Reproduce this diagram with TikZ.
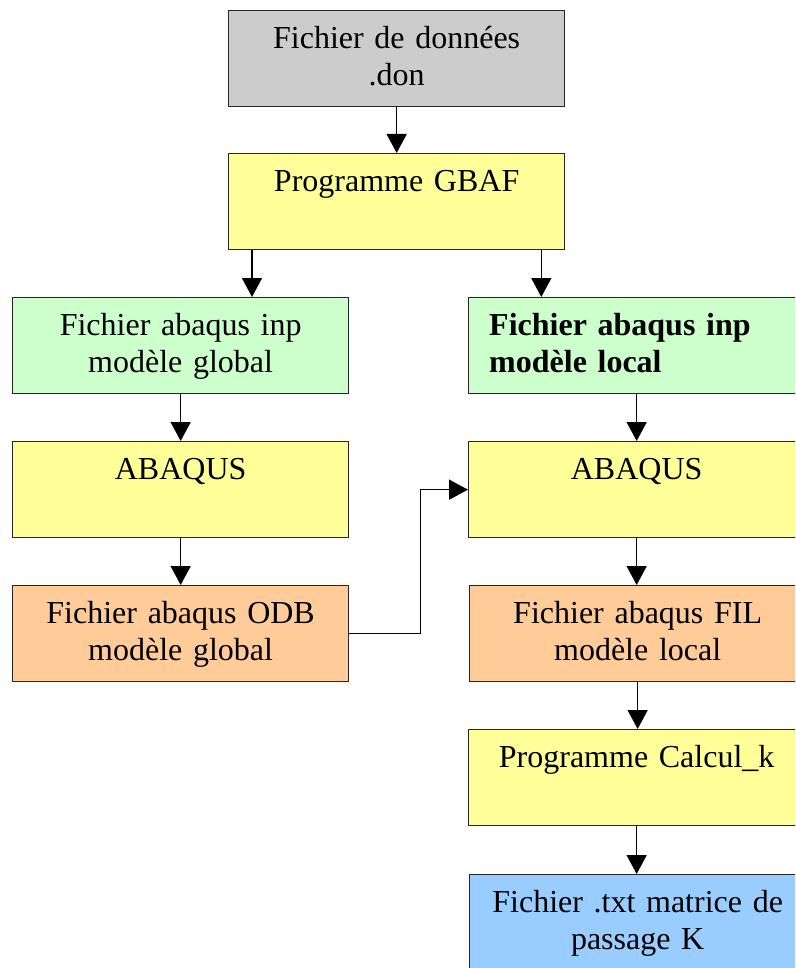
\documentclass[tikz,border=0pt]{standalone}
\usepackage{fontspec}
\setmainfont{Liberation Serif}
\usetikzlibrary{arrows.meta}
\definecolor{cgray}{HTML}{CCCCCC}
\definecolor{cyellow}{HTML}{FFFF99}
\definecolor{cgreen}{HTML}{CCFFCC}
\definecolor{corange}{HTML}{FFCC99}
\definecolor{cblue}{HTML}{99CCFF}
\tikzset{
  box/.style={draw=black!85, line width=1.3pt, minimum width=336pt, minimum height=96pt, inner sep=0pt, anchor=north west},
  txt/.style={font=\fontsize{32}{37}\selectfont, inner sep=0pt, anchor=north, text width=330pt, align=center},
  txtb/.style={font=\fontsize{32}{37}\selectfont\bfseries, inner sep=0pt, anchor=north west, text width=310pt, align=left},
  arr/.style={line width=1.5pt, -{Triangle[length=19pt,width=20pt]}}
}
\begin{document}
\begin{tikzpicture}[x=1pt,y=-1pt]
\useasboundingbox (0,0) rectangle (795,968);
\clip (0,0) rectangle (795,968);
% boxes
\node[box, fill=cgray] (don) at (228,10) {};
\node[box, fill=cyellow] (gbaf) at (228,153) {};
\node[box, fill=cgreen] (gl) at (12,297) {};
\node[box, fill=cgreen] (gr) at (468,297) {};
\node[box, fill=cyellow] (al) at (12,441) {};
\node[box, fill=cyellow] (ar) at (468,441) {};
\node[box, fill=corange] (ol) at (12,585) {};
\node[box, fill=corange] (fr) at (469,585) {};
\node[box, fill=cyellow] (calc) at (468,729) {};
\node[box, fill=cblue] (res) at (469,874) {};
% texts
\node[txt] (tdon) at ([yshift=-12pt]don.north) {\strut Fichier de données\\.don};
\node[txt] (tgbaf) at ([yshift=-12pt]gbaf.north) {\strut Programme GBAF};
\node[txt] (tgl) at ([yshift=-12pt]gl.north) {\strut Fichier abaqus inp\\modèle global};
\node[txtb] (tgr) at ([xshift=21pt,yshift=-12pt]gr.north west) {\strut Fichier abaqus inp\\modèle local};
\node[txt] (tal) at ([yshift=-12pt]al.north) {\strut ABAQUS};
\node[txt] (tar) at ([yshift=-12pt]ar.north) {\strut ABAQUS};
\node[txt] (tol) at ([yshift=-12pt]ol.north) {\strut Fichier abaqus ODB\\modèle global};
\node[txt] (tfr) at ([yshift=-12pt]fr.north) {\strut Fichier abaqus FIL\\modèle local};
\node[txt] (tcalc) at ([yshift=-12pt]calc.north) {\strut Programme Calcul\_k};
\node[txt] (tres) at ([yshift=-12pt]res.north) {\strut Fichier .txt matrice de\\passage K};
% connectors
\draw[arr] (don.south) -- (gbaf.north);
\draw[arr] ([xshift=24pt]gbaf.south west) -- ([xshift=24pt]gbaf.south west |- gl.north);
\draw[arr] ([xshift=-24pt]gbaf.south east) -- ([xshift=-24pt]gbaf.south east |- gr.north);
\draw[arr] (gl.south) -- (al.north);
\draw[arr] (al.south) -- (ol.north);
\draw[arr] (gr.south) -- (ar.north);
\draw[arr] (ar.south) -- (fr.north -| ar.south);
\draw[arr] (fr.south) -- (calc.north -| fr.south);
\draw[arr] (calc.south) -- (res.north -| calc.south);
\draw[arr] (ol.east) -- ++(71,0) |- (ar.west);
\end{tikzpicture}
\end{document}
